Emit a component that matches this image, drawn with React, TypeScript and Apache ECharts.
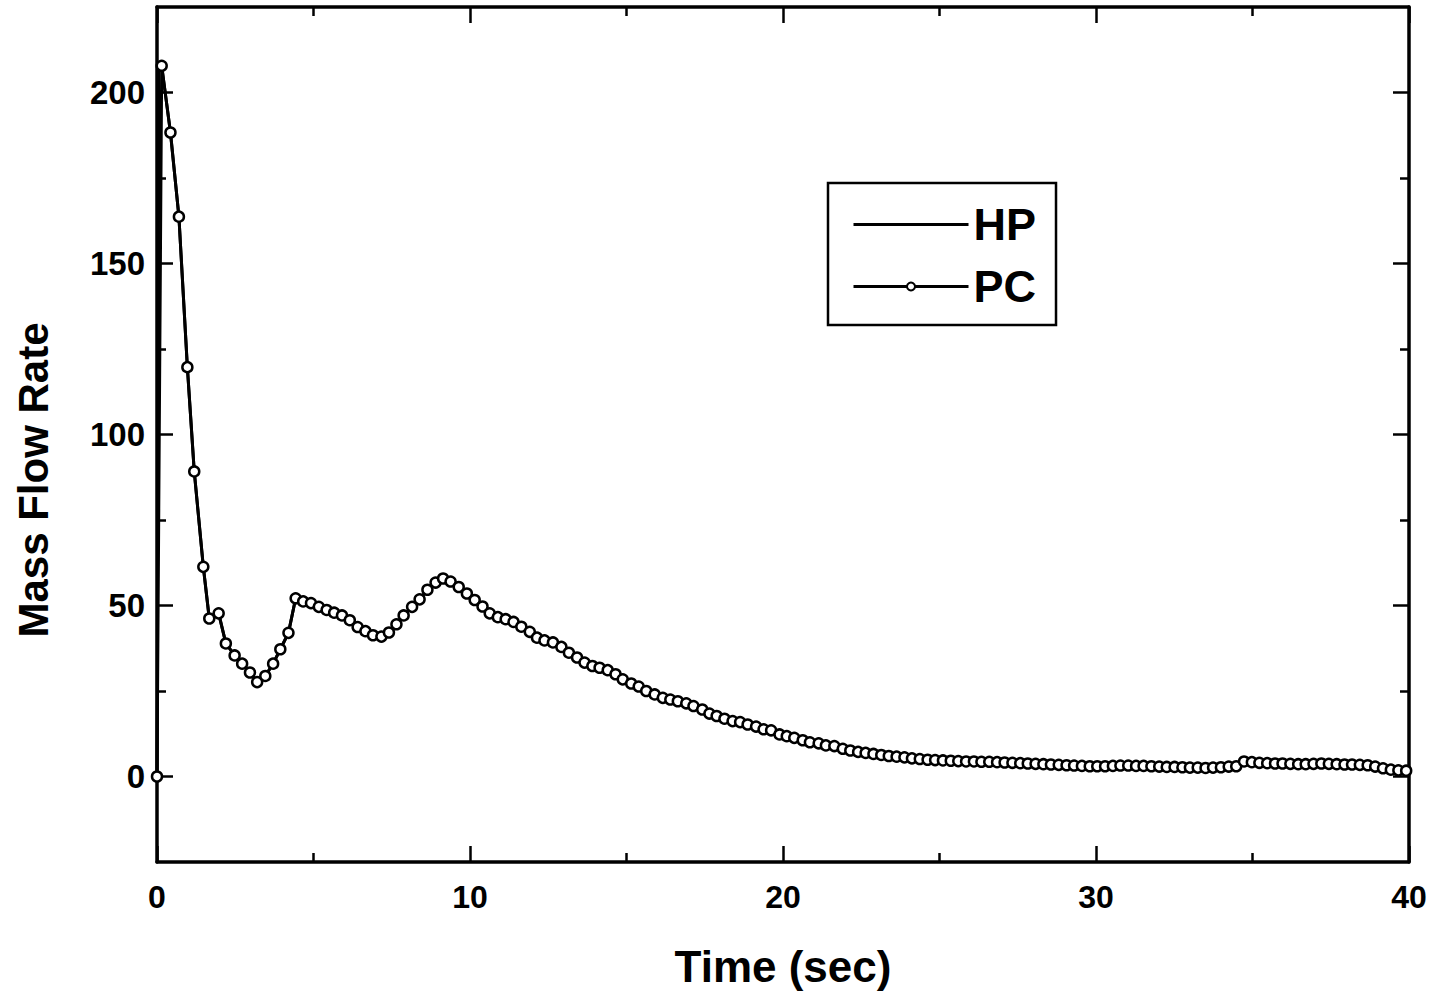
import React, { useEffect, useRef } from "react";
import * as echarts from "echarts";

// Time (sec) of each PC sample
const pcTime = [
  0, 0.15, 0.43, 0.70, 0.97, 1.19, 1.48, 1.67, 1.97, 2.20, 2.48, 2.72, 2.97, 3.20, 3.46, 3.71, 3.94, 4.20,
  4.43, 4.67, 4.92, 5.17, 5.42, 5.66, 5.91, 6.16, 6.41, 6.66, 6.90, 7.17, 7.41, 7.65, 7.88, 8.15, 8.39, 8.64,
  8.90, 9.14, 9.38, 9.64, 9.90, 10.15, 10.40, 10.63, 10.89, 11.14, 11.39, 11.64, 11.91, 12.14, 12.38, 12.65,
  12.92, 13.16, 13.42, 13.66, 13.91, 14.14, 14.40, 14.65, 14.88, 15.15, 15.39, 15.63, 15.90, 16.16, 16.40,
  16.64, 16.91, 17.14, 17.42, 17.65, 17.88, 18.13, 18.39, 18.63, 18.87, 19.14, 19.38, 19.62, 19.89, 20.12,
  20.36, 20.63, 20.86, 21.14, 21.37, 21.64, 21.91,
  22.15, 22.40, 22.64, 22.89, 23.14, 23.38, 23.63, 23.88, 24.12, 24.37, 24.62, 24.86, 25.11, 25.36, 25.60,
  25.85, 26.10, 26.34, 26.59, 26.84, 27.08, 27.33, 27.58, 27.82, 28.07, 28.32, 28.56, 28.81, 29.06, 29.30,
  29.55, 29.80, 30.04, 30.29, 30.54, 30.78, 31.03, 31.28, 31.52, 31.77, 32.02, 32.26, 32.51, 32.76, 33.00,
  33.25, 33.50, 33.74, 33.99, 34.24, 34.48, 34.73, 34.98, 35.22, 35.47, 35.72, 35.96, 36.21, 36.46, 36.70,
  36.95, 37.20, 37.44, 37.69, 37.94, 38.18, 38.43, 38.68, 38.92, 39.17, 39.42, 39.66, 39.91,
];

// Mass flow rate of each PC sample
const pcFlow = [
  0, 207.8, 188.3, 163.7, 119.7, 89.2, 61.3, 46.2, 47.7, 38.9, 35.4, 33.0, 30.4, 27.6, 29.4, 33.0, 37.2, 42.0,
  52.1, 51.2, 50.7, 49.6, 48.7, 47.9, 47.1, 45.7, 43.7, 42.5, 41.3, 40.9, 42.1, 44.5, 47.1, 49.6, 51.8, 54.6,
  56.7, 57.9, 57.0, 55.4, 53.5, 51.6, 49.7, 47.7, 46.6, 46.0, 45.2, 43.8, 42.3, 40.6, 39.8, 39.2,
  37.9, 36.2, 34.8, 33.3, 32.3, 31.8, 31.1, 29.9, 28.4, 27.2, 26.3, 25.0, 24.0, 23.0, 22.5,
  22.0, 21.4, 20.6, 19.6, 18.4, 17.7, 16.9, 16.2, 15.9, 15.2, 14.6, 13.8, 13.5, 12.3, 11.8,
  11.3, 10.6, 10.0, 9.7, 9.1, 8.9, 8.1,
  7.6, 7.2, 6.9, 6.6, 6.3, 6.0, 5.8, 5.6, 5.3, 5.1, 4.9, 4.8, 4.7, 4.6, 4.5,
  4.4, 4.4, 4.3, 4.3, 4.2, 4.1, 4.0, 3.9, 3.8, 3.7, 3.6, 3.5, 3.4, 3.3, 3.2,
  3.1, 3.0, 3.0, 3.0, 3.1, 3.2, 3.2, 3.1, 3.1, 3.0, 2.9, 2.8, 2.8, 2.7, 2.6,
  2.6, 2.5, 2.6, 2.7, 2.9, 3.0, 4.4, 4.2, 4.0, 3.9, 3.8, 3.8, 3.7, 3.6, 3.6,
  3.7, 3.8, 3.7, 3.6, 3.5, 3.5, 3.4, 3.3, 2.9, 2.4, 2.0, 1.8, 1.7,
];

// HP follows the same trace, except for its steep initial rise along the left axis
const hpLeadTime = [0, 0.06];
const hpLeadFlow = [0, 209];

const xTicks = [0, 10, 20, 30, 40];
const yMajorTicks = [0, 50, 100, 150, 200];
const yMinorTicks = [25, 75, 125, 175];

const FONT = "'Liberation Sans', Arial, sans-serif";

export default function App() {
  const ref = useRef<HTMLDivElement>(null);

  useEffect(() => {
    if (!ref.current) return;
    const chart = echarts.init(ref.current, undefined, { renderer: "svg" });

    const pcData = pcTime.map((t, i) => [t, pcFlow[i]]);
    const hpData = [
      ...hpLeadTime.map((t, i) => [t, hpLeadFlow[i]]),
      ...pcTime.slice(1).map((t, i) => [t, pcFlow[i + 1]]),
    ];

    const lineStyle = { color: "#000", width: 3.5 };
    const tickStyle = { color: "#000", width: 2.5 };
    const baseX = {
      type: "value" as const,
      min: xTicks[0],
      max: xTicks[xTicks.length - 1],
      interval: 10,
      splitLine: { show: false },
      axisLine: { show: true, onZero: false, lineStyle },
      axisTick: { show: true, inside: true, length: 16, lineStyle: tickStyle },
      minorTick: { show: true, splitNumber: 2, length: 9, lineStyle: tickStyle },
    };
    const baseY = {
      type: "value" as const,
      min: -25,
      max: 225,
      splitLine: { show: false },
    };

    const yMajor = (position: "left" | "right", labels: boolean) => ({
      ...baseY,
      position,
      axisLine: { show: true, onZero: false, lineStyle },
      axisTick: {
        show: true,
        inside: true,
        length: 16,
        customValues: yMajorTicks,
        lineStyle: tickStyle,
      },
      axisLabel: labels
        ? {
            show: true,
            customValues: yMajorTicks,
            margin: 12,
            color: "#000",
            fontFamily: FONT,
            fontWeight: "bold",
            fontSize: 33,
          }
        : { show: false },
    });
    const yMinor = (position: "left" | "right") => ({
      ...baseY,
      position,
      axisLine: { show: false, onZero: false },
      axisTick: {
        show: true,
        inside: true,
        length: 9,
        customValues: yMinorTicks,
        lineStyle: tickStyle,
      },
      axisLabel: { show: false },
    });

    chart.setOption({
      animation: false,
      backgroundColor: "#fff",
      grid: { left: 157, right: 27, top: 7, bottom: 135, containLabel: false },
      xAxis: [
        {
          ...baseX,
          position: "bottom",
          axisLabel: {
            show: true,
            margin: 19,
            color: "#000",
            fontFamily: FONT,
            fontWeight: "bold",
            fontSize: 32,
          },
          name: "Time (sec)",
          nameLocation: "middle",
          nameGap: 82,
          nameTextStyle: { color: "#000", fontFamily: FONT, fontWeight: "bold", fontSize: 44 },
        },
        { ...baseX, position: "top", axisLabel: { show: false } },
      ],
      yAxis: [yMajor("left", true), yMinor("left"), yMajor("right", false), yMinor("right")],
      legend: {
        show: true,
        orient: "vertical",
        left: 828,
        top: 183,
        padding: [19, 20, 16, 24],
        itemGap: 17,
        itemWidth: 115,
        itemHeight: 10,
        borderColor: "#000",
        borderWidth: 2.5,
        borderRadius: 0,
        backgroundColor: "#fff",
        lineStyle: { width: 3, color: "#000" },
        textStyle: {
          color: "#000",
          fontFamily: FONT,
          fontWeight: "bold",
          fontSize: 45,
          lineHeight: 45,
        },
        data: [
          { name: "HP", itemStyle: { color: "transparent", borderColor: "transparent", opacity: 0 } },
          { name: "PC" },
        ],
      },
      graphic: [
        {
          type: "text",
          x: 33,
          y: 480,
          rotation: Math.PI / 2,
          style: {
            text: "Mass Flow Rate",
            fill: "#000",
            font: `bold 42px ${FONT}`,
            align: "center",
            verticalAlign: "middle",
          },
        },
      ],
      series: [
        {
          name: "HP",
          type: "line",
          xAxisIndex: 0,
          yAxisIndex: 0,
          data: hpData,
          symbol: "none",
          lineStyle: { color: "#000", width: 3 },
          itemStyle: { color: "#000" },
          z: 2,
        },
        {
          name: "PC",
          type: "line",
          xAxisIndex: 0,
          yAxisIndex: 0,
          data: pcData,
          symbol: "circle",
          symbolSize: 10,
          showSymbol: true,
          lineStyle: { color: "#000", width: 3 },
          itemStyle: { color: "#fff", borderColor: "#000", borderWidth: 2.5 },
          z: 3,
        },
      ],
    });

    return () => chart.dispose();
  }, []);

  return (
    <div
      ref={ref}
      style={{ position: "fixed", left: 0, top: 0, width: 1436, height: 997, background: "#fff" }}
    />
  );
}
